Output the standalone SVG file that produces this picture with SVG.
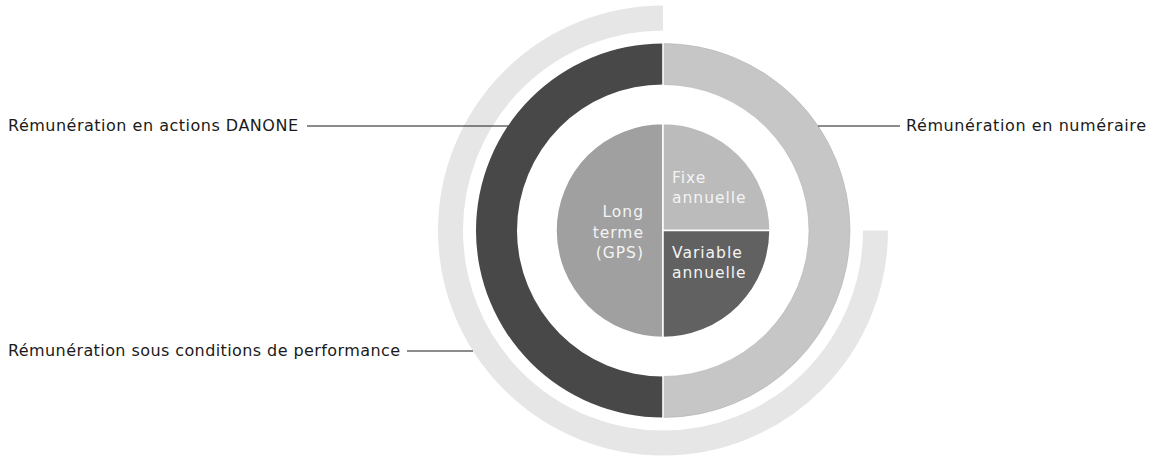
<svg xmlns="http://www.w3.org/2000/svg" width="1152" height="457" viewBox="0 0 1152 457">
<style>
.lbl{font-family:"DejaVu Sans","Liberation Sans",sans-serif;font-size:16px;fill:#1a1a1a}
.in{font-family:"DejaVu Sans","Liberation Sans",sans-serif;font-size:15.5px;fill:#f4f4f4;letter-spacing:1px}
.ln{stroke:#1a1a1a;stroke-width:1.2;fill:none}
</style>
<rect width="1152" height="457" fill="#fff"/>
<g id="outer-arc">
<path d="M663,18 A212.5,212.5 0 1 0 875.5,230.5" fill="none" stroke="#e6e6e6" stroke-width="25"/>
</g>
<g id="ring-actions">
<path d="M663,43.5 A187,187 0 0 0 663,417.5 L663,376.5 A146,146 0 0 1 663,84.5 Z" fill="#484848"/>
</g>
<g id="ring-numeraire">
<path d="M663,43.5 A187,187 0 0 1 663,417.5 L663,376.5 A146,146 0 0 0 663,84.5 Z" fill="#c6c6c6" stroke="#b4b4b4" stroke-width="0.6"/>
</g>
<line x1="663" y1="42" x2="663" y2="419" stroke="#fff" stroke-width="1.5"/>
<g id="pie-long-terme">
<path d="M663,230.5 L663,123.5 A107,107 0 0 0 663,337.5 Z" fill="#a0a0a0" stroke="#fff" stroke-width="1.5"/>
<text class="in" text-anchor="end"><tspan x="644" y="217">Long</tspan><tspan x="644" y="238">terme</tspan><tspan x="644" y="258">(GPS)</tspan></text>
</g>
<g id="pie-fixe">
<path d="M663,230.5 L663,123.5 A107,107 0 0 1 770,230.5 Z" fill="#bbbbbb" stroke="#fff" stroke-width="1.5"/>
<text class="in"><tspan x="672" y="183">Fixe</tspan><tspan x="672" y="203">annuelle</tspan></text>
</g>
<g id="pie-variable">
<path d="M663,230.5 L770,230.5 A107,107 0 0 1 663,337.5 Z" fill="#616161" stroke="#fff" stroke-width="1.5"/>
<text class="in"><tspan x="672" y="258">Variable</tspan><tspan x="672" y="278">annuelle</tspan></text>
</g>
<g id="connectors">
<line class="ln" x1="307" y1="126" x2="508" y2="126"/>
<line class="ln" x1="818" y1="126" x2="900" y2="126"/>
<line class="ln" x1="407" y1="351" x2="473" y2="351"/>
</g>
<g id="label-actions"><text class="lbl" x="8" y="131" textLength="290" lengthAdjust="spacing">Rémunération en actions DANONE</text></g>
<g id="label-numeraire"><text class="lbl" x="906" y="131" textLength="240" lengthAdjust="spacing">Rémunération en numéraire</text></g>
<g id="label-performance"><text class="lbl" x="8" y="356" textLength="392" lengthAdjust="spacing">Rémunération sous conditions de performance</text></g>
</svg>
